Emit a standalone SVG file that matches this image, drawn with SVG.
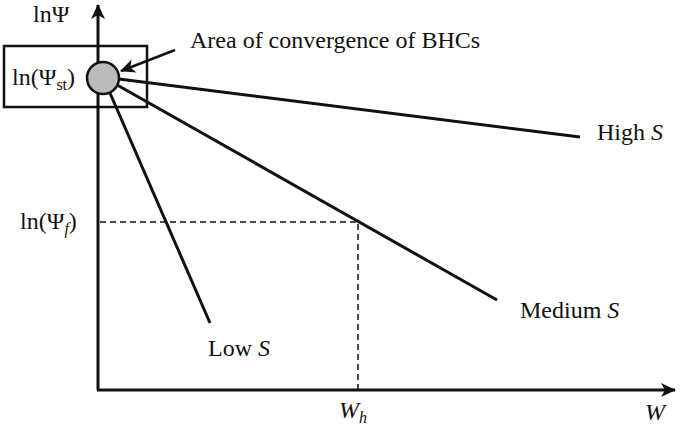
<svg xmlns="http://www.w3.org/2000/svg" width="685" height="438" viewBox="0 0 685 438">
<style>
text{font-family:"Liberation Serif",serif;font-size:24px;fill:#111}
.l{stroke:#111;stroke-width:3;fill:none}
.d{stroke:#111;stroke-width:1.5;stroke-dasharray:6,4;fill:none}
</style>
<defs>
<marker id="b" markerWidth="16" markerHeight="16" refX="14" refY="8" orient="auto" markerUnits="userSpaceOnUse"><path d="M0,1 L15,8 L0,15 L4,8z" fill="#111"/></marker></defs>
<g id="connectors">
<path class="l" d="M98,390 L98,5" marker-end="url(#b)"/>
<path class="l" d="M97,390 L675,390" marker-end="url(#b)"/>
<path class="l" d="M103,77 L580,137"/>
<path class="l" d="M103,77 L497,300"/>
<path class="l" d="M103,77 L210,323"/>
<path class="d" d="M100,222 L358,222 L358,390"/>
<path class="l" d="M175,50 L121,71" style="stroke-width:2.5" marker-end="url(#b)"/>
</g>
<g id="box"><rect x="4" y="46" width="143" height="61" class="l" style="stroke-width:2.5"/></g>
<g id="circle"><circle cx="103" cy="78" r="16" fill="#bbb" stroke="#111" stroke-width="2.5"/></g>
<g id="labels">
<text x="33" y="22">lnΨ</text>
<text x="12" y="85">ln(Ψ<tspan font-size="16" dy="5">st</tspan><tspan dy="-5">)</tspan></text>
<text x="20" y="229">ln(Ψ<tspan font-size="16" font-style="italic" dy="5">f</tspan><tspan dy="-5">)</tspan></text>
<text x="190" y="48">Area of convergence of BHCs</text>
<text x="597" y="140">High <tspan font-style="italic">S</tspan></text>
<text x="520" y="318">Medium <tspan font-style="italic">S</tspan></text>
<text x="208" y="356">Low <tspan font-style="italic">S</tspan></text>
<text x="339" y="418" font-style="italic">W<tspan font-size="16" dy="5">h</tspan></text>
<text x="645" y="420" font-style="italic">W</text>
</g>
</svg>
